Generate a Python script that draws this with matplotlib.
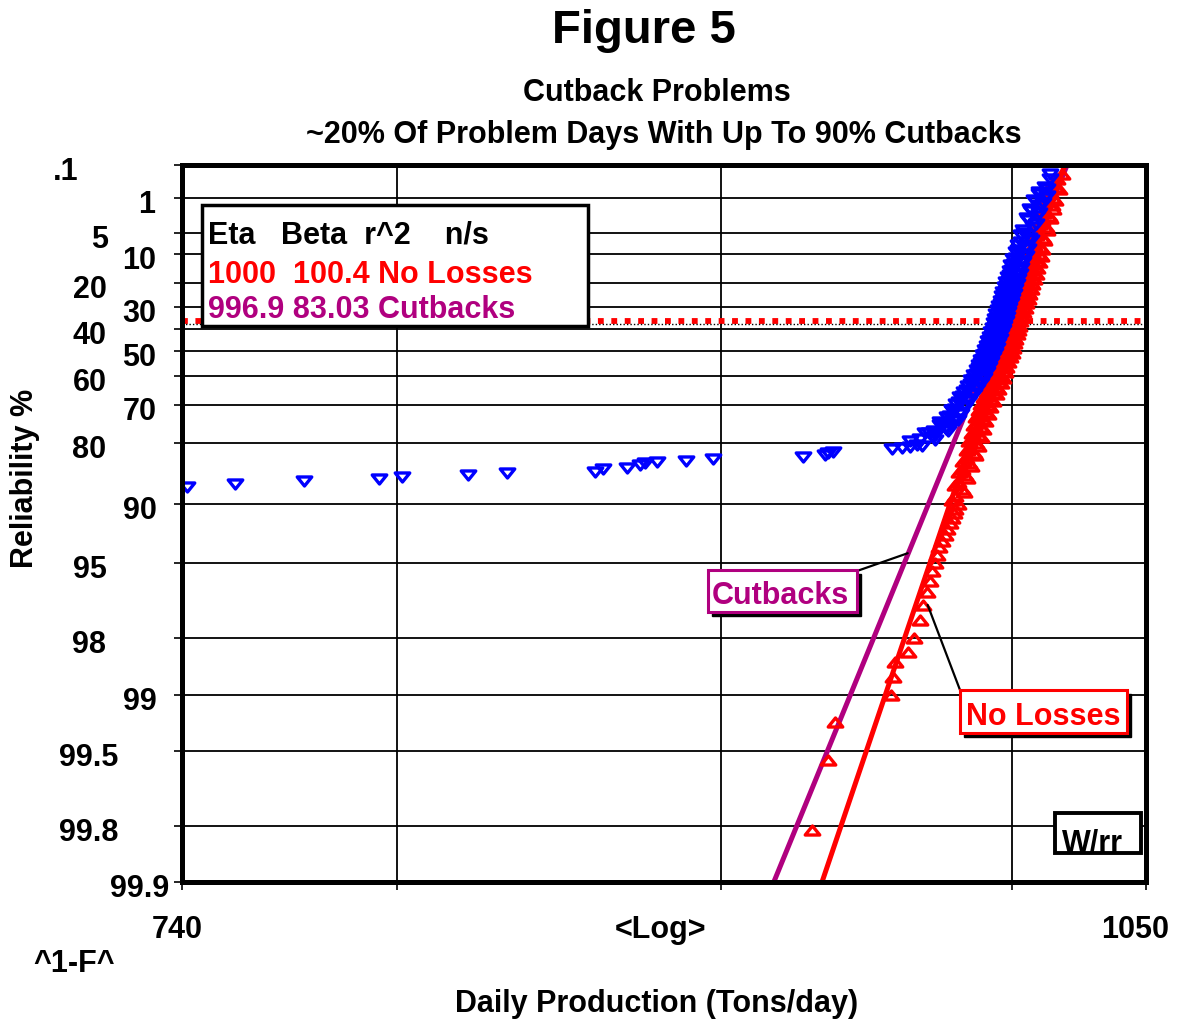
import numpy as np
import matplotlib.pyplot as plt
from matplotlib.patches import Rectangle
from matplotlib.path import Path
from matplotlib.ticker import NullLocator

plt.rcParams['font.family'] = ['Liberation Sans', 'DejaVu Sans']
plt.rcParams['font.weight'] = 'bold'

# Weibull fits (shown in the legend box)
eta_noloss, beta_noloss = 1000, 100.4
eta_cut, beta_cut = 996.9, 83.03

# Reliability axis
r_ticks = [0.1, 1, 5, 10, 20, 30, 40, 50, 60, 70, 80, 90, 95, 98, 99, 99.5, 99.8, 99.9]
r_labels = ['.1', '1', '5', '10', '20', '30', '40', '50', '60', '70', '80', '90',
            '95', '98', '99', '99.5', '99.8', '99.9']
x_ticks = [740, 800, 900, 1000, 1050]

# No Losses data (tons/day, reliability %)
noloss_tons = [930.0, 935.5, 937.8, 957.2, 957.8, 958.5, 963.0, 965.1, 967.2, 968.3,
               969.7, 970.7, 971.4, 972.5, 973.2, 973.9, 975.0, 976.0, 976.9, 977.8,
               978.5, 979.2, 979.5,
               980.9, 979.6, 982.3, 980.9, 983.4, 982.1, 984.8, 983.6, 986.3, 984.8,
               987.3, 985.8, 988.2, 986.7, 989.1, 987.5, 989.8, 988.3, 990.7, 989.2,
               991.6, 990.2, 992.7, 991.2, 993.6, 992.1, 994.5, 993.0, 995.4, 993.8,
               996.2, 994.6, 996.9, 995.2, 997.4, 995.8, 998.1, 996.5, 998.9, 997.2,
               999.4, 997.7, 999.9, 998.1, 1000.3, 998.5, 1000.7, 998.9, 1001.0, 999.3,
               1001.6, 999.8, 1001.9, 1000.2, 1002.5, 1000.8, 1003.0, 1001.3, 1003.6, 1001.9,
               1004.1, 1002.4, 1004.7, 1003.0, 1005.2, 1003.5, 1005.8, 1004.1, 1006.3, 1004.6,
               1006.9, 1005.3, 1007.6, 1005.9, 1008.1, 1006.4, 1008.7, 1007.1, 1009.4, 1007.7,
               1010.0, 1008.2, 1010.5, 1009.0, 1011.4, 1009.8, 1012.4, 1011.1, 1013.5, 1011.8,
               1014.6, 1013.0, 1015.3, 1014.0, 1016.3, 1016.7, 1018.3,
               978.5, 982.8, 979.8, 984.0, 981.0, 985.3, 982.4, 986.8, 983.8, 987.9,
               984.8, 988.8, 985.7, 989.7, 986.5, 990.5, 987.3, 991.3, 988.2, 992.2,
               989.1, 993.3, 990.2, 994.2, 991.1, 995.1, 992.0, 996.0, 992.8, 996.8,
               993.6, 997.6, 994.3, 998.1, 994.8, 998.8, 995.5, 999.5, 996.3, 1000.1,
               996.8, 1000.6, 997.2, 1001.0, 997.6, 1001.4, 998.0, 1001.8, 998.4, 1002.3,
               998.9, 1002.7, 999.3, 1003.2, 999.9, 1003.7, 1000.4, 1004.3, 1001.0, 1004.8,
               1001.5, 1005.4, 1002.1, 1005.9, 1002.6, 1006.5, 1003.2, 1007.0, 1003.7, 1007.6,
               1004.3, 1008.3, 1005.0, 1008.8, 1005.5, 1009.4, 1006.1, 1010.1, 1006.8, 1010.7,
               1007.3, 1011.1, 1008.0, 1012.0, 1008.8, 1012.9, 1010.0, 1014.1, 1011.3, 1015.1,
               1012.0, 1016.0, 1012.8, 1017.2, 1015.0]
noloss_rel = [99.81, 99.55, 99.28, 99.0, 98.75, 98.5, 98.3, 98.0, 97.5, 97.0,
              96.5, 96.0, 95.5, 95.0, 94.5, 94.0, 93.5, 93.0, 92.5, 92.0,
              91.5, 91.0, 90.5,
              90, 89, 88, 87, 86, 85, 84, 83, 82, 81,
              80, 79, 78, 77, 76, 75, 74, 73, 72, 71,
              70, 69, 68, 67, 66, 65, 64, 63, 62, 61,
              60, 59, 58, 57, 56, 55, 54, 53, 52, 51,
              50, 49, 48, 47, 46, 45, 44, 43, 42, 41,
              40, 39, 38, 37, 36, 35, 34, 33, 32, 31,
              30, 29, 28, 27, 26, 25, 24, 23, 22, 21,
              20, 19, 18, 17, 16, 15, 14, 13, 12, 11,
              10, 9, 8, 7, 6, 5, 4, 3, 2.5, 2,
              1.5, 1.2, 1.0, 0.7, 0.5, 0.3, 0.2,
              89.5, 88.5, 87.5, 86.5, 85.5, 84.5, 83.5, 82.5, 81.5, 80.5,
              79.5, 78.5, 77.5, 76.5, 75.5, 74.5, 73.5, 72.5, 71.5, 70.5,
              69.5, 68.5, 67.5, 66.5, 65.5, 64.5, 63.5, 62.5, 61.5, 60.5,
              59.5, 58.5, 57.5, 56.5, 55.5, 54.5, 53.5, 52.5, 51.5, 50.5,
              49.5, 48.5, 47.5, 46.5, 45.5, 44.5, 43.5, 42.5, 41.5, 40.5,
              39.5, 38.5, 37.5, 36.5, 35.5, 34.5, 33.5, 32.5, 31.5, 30.5,
              29.5, 28.5, 27.5, 26.5, 25.5, 24.5, 23.5, 22.5, 21.5, 20.5,
              19.5, 18.5, 17.5, 16.5, 15.5, 14.5, 13.5, 12.5, 11.5, 10.5,
              9.5, 8.5, 7.5, 6.5, 5.5, 4.5, 3.5, 2.7, 2.2, 1.8,
              1.35, 1.1, 0.85, 0.6, 0.4]

# Cutbacks data (tons/day, reliability %)
cut_tons = [741.3, 754.4, 773.5, 794.8, 801.5, 820.9, 832.6, 859.6, 862.1, 869.6,
            873.7, 875.3, 879.1, 888.7, 897.2, 927.0, 934.4, 935.4, 937.1, 957.4,
            960.9, 963.7, 966.2,
            967.3, 972.7, 972.2, 976.6, 975.8, 979.4, 977.9, 981.4, 979.7, 983.0,
            981.1, 984.4, 982.6, 985.9, 984.0, 987.3, 985.3, 988.4, 986.3, 989.4,
            987.4, 990.5, 988.3, 991.2, 989.0, 991.9, 989.7, 992.7, 990.5, 993.4,
            991.2, 994.1, 991.8, 994.6, 992.3, 995.2, 992.9, 995.7, 993.4, 996.3,
            993.9, 996.6, 994.3, 997.2, 994.9, 997.7, 995.3, 998.1, 995.8, 998.6,
            996.3, 999.2, 996.8, 999.5, 997.2, 1000.1, 997.8, 1000.6, 998.3, 1001.2,
            998.9, 1001.7, 999.5, 1002.4, 1000.1, 1003.0, 1000.7, 1003.5, 1001.5, 1004.6,
            1002.4, 1005.3, 1003.3, 1006.4, 1004.6, 1007.9, 1006.0, 1009.2, 1007.1, 1010.4,
            1008.6, 1011.9, 1010.0, 1013.0, 1012.2, 1013.9, 1013.9,
            972.0, 970.5, 976.4, 974.2, 979.6, 976.7, 981.7, 978.6, 983.4, 980.1,
            984.8, 981.5, 986.3, 983.0, 987.7, 984.3, 988.9, 985.4, 989.9, 986.4,
            991.0, 987.4, 991.8, 988.1, 992.5, 988.8, 993.2, 989.6, 994.0, 990.3,
            994.7, 991.0, 995.2, 991.5, 995.8, 992.1, 996.3, 992.6, 996.9, 993.1,
            997.3, 993.5, 997.8, 994.1, 998.3, 994.5, 998.7, 995.0, 999.2, 995.5,
            999.8, 996.0, 1000.2, 996.4, 1000.7, 997.0, 1001.2, 997.5, 1001.8, 998.1,
            1002.3, 998.6, 1003.0, 999.3, 1003.6, 999.9, 1004.1, 1000.5, 1005.1, 1001.5,
            1005.9, 1002.3, 1006.9, 1003.5,
            1004.2, 1008.9, 1005.6, 1010.1, 1006.7, 1011.5, 1008.2, 1012.9, 1010.0,
            963.7, 969.0, 974.3, 978.5, 967.9, 972.5, 977.1, 980.6, 982.1]
cut_rel = [87.74, 87.35, 86.90, 86.61, 86.29, 85.98, 85.65, 85.44, 84.98, 84.81,
           84.29, 83.93, 83.75, 83.56, 83.19, 82.81, 82.42, 82.02, 81.82, 81.20,
           80.99, 80.78, 80.35,
           79, 78, 77, 76, 75, 74, 73, 72, 71, 70,
           69, 68, 67, 66, 65, 64, 63, 62, 61, 60,
           59, 58, 57, 56, 55, 54, 53, 52, 51, 50,
           49, 48, 47, 46, 45, 44, 43, 42, 41, 40,
           39, 38, 37, 36, 35, 34, 33, 32, 31, 30,
           29, 28, 27, 26, 25, 24, 23, 22, 21, 20,
           19, 18, 17, 16, 15, 14, 13, 12, 11, 10,
           9, 8, 7, 6, 5, 4, 3, 2.5, 2, 1.5,
           1.2, 1.0, 0.8, 0.6, 0.5, 0.3, 0.2,
           78.5, 77.5, 76.5, 75.5, 74.5, 73.5, 72.5, 71.5, 70.5, 69.5,
           68.5, 67.5, 66.5, 65.5, 64.5, 63.5, 62.5, 61.5, 60.5, 59.5,
           58.5, 57.5, 56.5, 55.5, 54.5, 53.5, 52.5, 51.5, 50.5, 49.5,
           48.5, 47.5, 46.5, 45.5, 44.5, 43.5, 42.5, 41.5, 40.5, 39.5,
           38.5, 37.5, 36.5, 35.5, 34.5, 33.5, 32.5, 31.5, 30.5, 29.5,
           28.5, 27.5, 26.5, 25.5, 24.5, 23.5, 22.5, 21.5, 20.5, 19.5,
           18.5, 17.5, 16.5, 15.5, 14.5, 13.5, 12.5, 11.5, 10.5, 9.5,
           8.5, 7.5, 6.5, 5.5,
           4.5, 3.5, 2.7, 2.2, 1.8, 1.35, 1.1, 0.9, 0.7,
           79.47, 77.6, 74.8, 71.4, 80.6, 79.2, 77.1, 74.25, 67.7]

RED = '#FF0000'
BLUE = '#0000FF'
PURPLE = '#B0007F'

W, H = 1178, 1021


def fx(px):
    return px / W


def fy(py):
    return 1 - py / H


def wb(r):
    # Weibull probability scale: ln(-ln(R))
    return np.log(-np.log(np.asarray(r, dtype=float) / 100.0))


fig = plt.figure(figsize=(W / 100, H / 100), dpi=100)
ax = fig.add_axes([fx(182), fy(882), (1146 - 182) / W, (882 - 165) / H])

ax.set_xscale('log')
ax.set_xlim(740, 1050)
ax.set_ylim(wb(99.9), wb(0.1))
ax.set_xticks(x_ticks)
ax.xaxis.set_minor_locator(NullLocator())
ax.set_xticklabels([])
ax.set_yticks(wb(r_ticks))
ax.set_yticklabels([])
ax.tick_params(direction='out', length=6, width=1.2, color='black')
ax.grid(True, color='black', lw=1.3)
ax.set_axisbelow(True)
for s in ax.spines.values():
    s.set_linewidth(3.6)
    s.set_zorder(10)

# characteristic life line (63.2 %)
ax.axhline(0.012, color=RED, lw=4.2, ls=(0, (1, 1.3)), zorder=1.5)
ax.axhline(-0.03, color='black', lw=1.0, ls=(0, (1, 1.5)), zorder=1.5)

# fitted lines
yy = wb([99.9, 0.1])
ax.plot(eta_cut * np.exp(yy / beta_cut), yy, color=PURPLE, lw=3.6, zorder=2, solid_capstyle='butt')
ax.plot(eta_noloss * np.exp(yy / beta_noloss), yy, color=RED, lw=3.6, zorder=2, solid_capstyle='butt')

codes = [Path.MOVETO, Path.LINETO, Path.LINETO, Path.CLOSEPOLY]
tri_up = Path([(-1, -0.62), (1, -0.62), (0, 0.62), (0, 0)], codes)
tri_dn = Path([(-1, 0.62), (1, 0.62), (0, -0.62), (0, 0)], codes)
ax.plot(noloss_tons, wb(noloss_rel), ls='none', marker=tri_up, ms=10.5,
        mfc='none', mec=RED, mew=2.4, zorder=3)
ax.plot(cut_tons, wb(cut_rel), ls='none', marker=tri_dn, ms=10.5,
        mfc='none', mec=BLUE, mew=2.4, zorder=4)

# y tick labels, staggered like the original
ylab_x = [66, 147, 100, 139.5, 89.5, 139.5, 89.5, 139.5, 89.5, 139.5, 89.5, 139.5,
          89.5, 89.5, 139.5, 88.5, 88.5, 139.5]
for r, lab, xc in zip(r_ticks, r_labels, ylab_x):
    ax.annotate(lab, xy=(0, wb(r)), xycoords=ax.get_yaxis_transform(),
                xytext=((xc - 182) * 0.72, -15 * 0.72), textcoords='offset points',
                ha='center', va='baseline', fontsize=22, annotation_clip=False)

# x labels
fig.text(fx(177), fy(938), '740', ha='center', va='baseline', fontsize=22)
fig.text(fx(1135), fy(938), '1050', ha='center', va='baseline', fontsize=22)
fig.text(fx(660), fy(938), '<Log>', ha='center', va='baseline', fontsize=22)
fig.text(fx(33), fy(972), '^1-F^', ha='left', va='baseline', fontsize=22)
fig.text(fx(657), fy(1012), 'Daily Production (Tons/day)', ha='center', va='baseline', fontsize=22)
fig.text(fx(25), fy(478), 'Reliability %', rotation=90, ha='center', va='center', fontsize=22)

# titles
fig.text(fx(644), fy(43), 'Figure 5', ha='center', va='baseline', fontsize=34)
fig.text(fx(657), fy(101), 'Cutback Problems', ha='center', va='baseline', fontsize=22)
fig.text(fx(664), fy(143), '~20% Of Problem Days With Up To 90% Cutbacks',
         ha='center', va='baseline', fontsize=22)


def box(x0, y0, x1, y1, edge, shadow=True, lw=2.2):
    if shadow:
        fig.add_artist(Rectangle((fx(x0 + 4), fy(y1 + 4)), (x1 - x0) / W, (y1 - y0) / H,
                                 transform=fig.transFigure, facecolor='black',
                                 edgecolor='black', lw=1, zorder=20))
    fig.add_artist(Rectangle((fx(x0), fy(y1)), (x1 - x0) / W, (y1 - y0) / H,
                             transform=fig.transFigure, facecolor='white',
                             edgecolor=edge, lw=lw, zorder=21))


# legend box
box(202, 205, 588, 326, 'black', shadow=False, lw=2.5)
fig.text(fx(208), fy(243), 'Eta   Beta  r^2    n/s', color='black', fontsize=22,
         va='baseline', zorder=22)
fig.text(fx(208), fy(283), '1000  100.4 No Losses', color=RED, fontsize=22,
         va='baseline', zorder=22)
fig.text(fx(208), fy(318), '996.9 83.03 Cutbacks', color=PURPLE, fontsize=22,
         va='baseline', zorder=22)

# series labels with leader lines
ax.annotate('', xy=(963, wb(94.4)), xytext=(fx(857), fy(571)), textcoords='figure fraction',
            arrowprops=dict(arrowstyle='-', color='black', lw=1.6, shrinkA=0, shrinkB=0),
            annotation_clip=False)
ax.annotate('', xy=(970, wb(97.0)), xytext=(fx(960), fy(690)), textcoords='figure fraction',
            arrowprops=dict(arrowstyle='-', color='black', lw=1.6, shrinkA=0, shrinkB=0),
            annotation_clip=False)
box(708, 570, 857, 612, PURPLE)
fig.text(fx(712), fy(604), 'Cutbacks', color=PURPLE, fontsize=22, va='baseline', zorder=22)
box(960, 690, 1127, 733, RED)
fig.text(fx(966), fy(725), 'No Losses', color=RED, fontsize=22, va='baseline', zorder=22)
box(1055, 813, 1141, 853, 'black', shadow=False, lw=2.8)
fig.text(fx(1062), fy(851), 'W/rr', color='black', fontsize=22, va='baseline', zorder=22)

fig.savefig('out.png', dpi=100)
